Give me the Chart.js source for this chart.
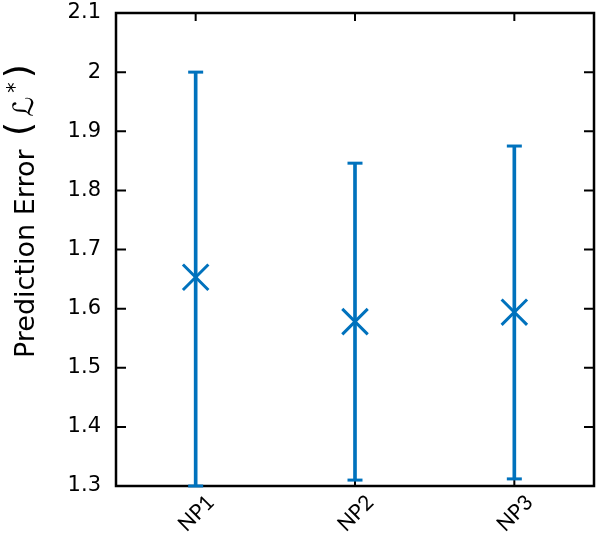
<!DOCTYPE html>
<html>
<head>
<meta charset="utf-8">
<script src="https://cdn.jsdelivr.net/npm/chart.js@4.4.0/dist/chart.umd.min.js"></script>
<style>
  html, body { margin: 0; padding: 0; background: #fff; }
  #wrap { width: 596px; height: 533px; }
</style>
</head>
<body>
<div id="wrap"><canvas id="errChart"></canvas></div>
<script>
// valores
const categorias = ['NP1', 'NP2', 'NP3'];
const medias     = [1.653, 1.578, 1.594];
const minimos    = [1.30, 1.31, 1.312];
const maximos    = [2.00, 1.846, 1.875];
const ticksY     = [1.3, 1.4, 1.5, 1.6, 1.7, 1.8, 1.9, 2.0, 2.1];

const azul = '#0072BD';

// marco negro con ticks hacia dentro
const marcoPlugin = {
    id: 'marco',
    beforeDatasetsDraw(chart) {
        const { ctx, chartArea: a, scales } = chart;
        ctx.save();
        ctx.strokeStyle = '#000';
        ctx.lineWidth = 2.5;
        ctx.strokeRect(a.left, a.top, a.right - a.left, a.bottom - a.top);
        ctx.lineWidth = 2;
        ctx.beginPath();
        scales.y.ticks.forEach(t => {
            const py = scales.y.getPixelForValue(t.value);
            ctx.moveTo(a.left, py); ctx.lineTo(a.left + 10, py);
            ctx.moveTo(a.right, py); ctx.lineTo(a.right - 10, py);
        });
        categorias.forEach((c, i) => {
            const px = scales.x.getPixelForValue(i);
            ctx.moveTo(px, a.top); ctx.lineTo(px, a.top + 8);
            ctx.moveTo(px, a.bottom); ctx.lineTo(px, a.bottom - 8);
        });
        ctx.stroke();
        ctx.restore();
    }
};

// titulo del eje y con la L caligrafica y el asterisco en superindice
const tituloPlugin = {
    id: 'tituloY',
    afterDraw(chart) {
        const ctx = chart.ctx;
        const partes = [
            { t: 'Prediction Error ', f: '27px "DejaVu Sans"', base: 34, gap: 0 },
            { t: '(', f: '36px "DejaVu Sans"', base: 30, gap: 5 },
            { t: 'ℒ', f: '28px "DejaVu Sans"', base: 33, gap: 5 },
            { t: '*', f: '21px "DejaVu Sans"', base: 22, gap: 4 },
            { t: ')', f: '36px "DejaVu Sans"', base: 30, gap: 4 }
        ];
        ctx.save();
        ctx.fillStyle = '#000';
        ctx.textBaseline = 'alphabetic';
        ctx.textAlign = 'left';
        let pos = 358;
        partes.forEach(p => {
            ctx.font = p.f;
            pos -= p.gap;
            ctx.save();
            ctx.translate(p.base, pos);
            ctx.rotate(-Math.PI / 2);
            ctx.fillText(p.t, 0, 0);
            ctx.restore();
            pos -= ctx.measureText(p.t).width;
        });
        ctx.restore();
    }
};

const ctx = document.getElementById('errChart').getContext('2d');
new Chart(ctx, {
    data: {
        labels: categorias,
        datasets: [
            {
                type: 'line',
                data: medias,
                showLine: false,
                pointStyle: 'crossRot',
                pointRadius: 18,
                pointBorderWidth: 3,
                borderColor: azul,
                backgroundColor: azul,
                clip: false
            },
            {
                type: 'line',
                data: minimos,
                showLine: false,
                pointStyle: 'line',
                pointRadius: 7.5,
                pointBorderWidth: 3,
                borderColor: azul,
                clip: false
            },
            {
                type: 'line',
                data: maximos,
                showLine: false,
                pointStyle: 'line',
                pointRadius: 7.5,
                pointBorderWidth: 3,
                borderColor: azul,
                clip: false
            },
            {
                type: 'bar',
                data: minimos.map((m, i) => [m, maximos[i]]),
                backgroundColor: azul,
                barThickness: 3
            }
        ]
    },
    options: {
        responsive: true,
        maintainAspectRatio: false,
        animation: false,
        events: [],
        layout: { autoPadding: false, padding: { top: 13, right: 2, left: 0, bottom: 0 } },
        plugins: {
            legend: { display: false },
            tooltip: { enabled: false }
        },
        scales: {
            x: {
                offset: true,
                grid: { display: false, drawTicks: false },
                border: { display: false },
                ticks: {
                    color: '#000',
                    minRotation: 45,
                    maxRotation: 45,
                    padding: 4,
                    labelOffset: 15,
                    font: { family: 'Lato', size: 21 }
                },
                afterFit(scale) {
                    scale.height = 47;
                    scale.paddingLeft = 0;
                    scale.paddingRight = 0;
                }
            },
            y: {
                min: 1.3,
                max: 2.1,
                afterBuildTicks(scale) { scale.ticks = ticksY.map(v => ({ value: v })); },
                grid: { display: false, drawTicks: false },
                border: { display: false },
                ticks: {
                    color: '#000',
                    padding: 15,
                    font: { family: 'DejaVu Sans', size: 21 },
                    callback: v => String(Math.round(v * 10) / 10)
                },
                afterFit(scale) {
                    scale.width = 116;
                    scale.paddingTop = 0;
                    scale.paddingBottom = 0;
                }
            }
        }
    },
    plugins: [marcoPlugin, tituloPlugin]
});
</script>
</body>
</html>
